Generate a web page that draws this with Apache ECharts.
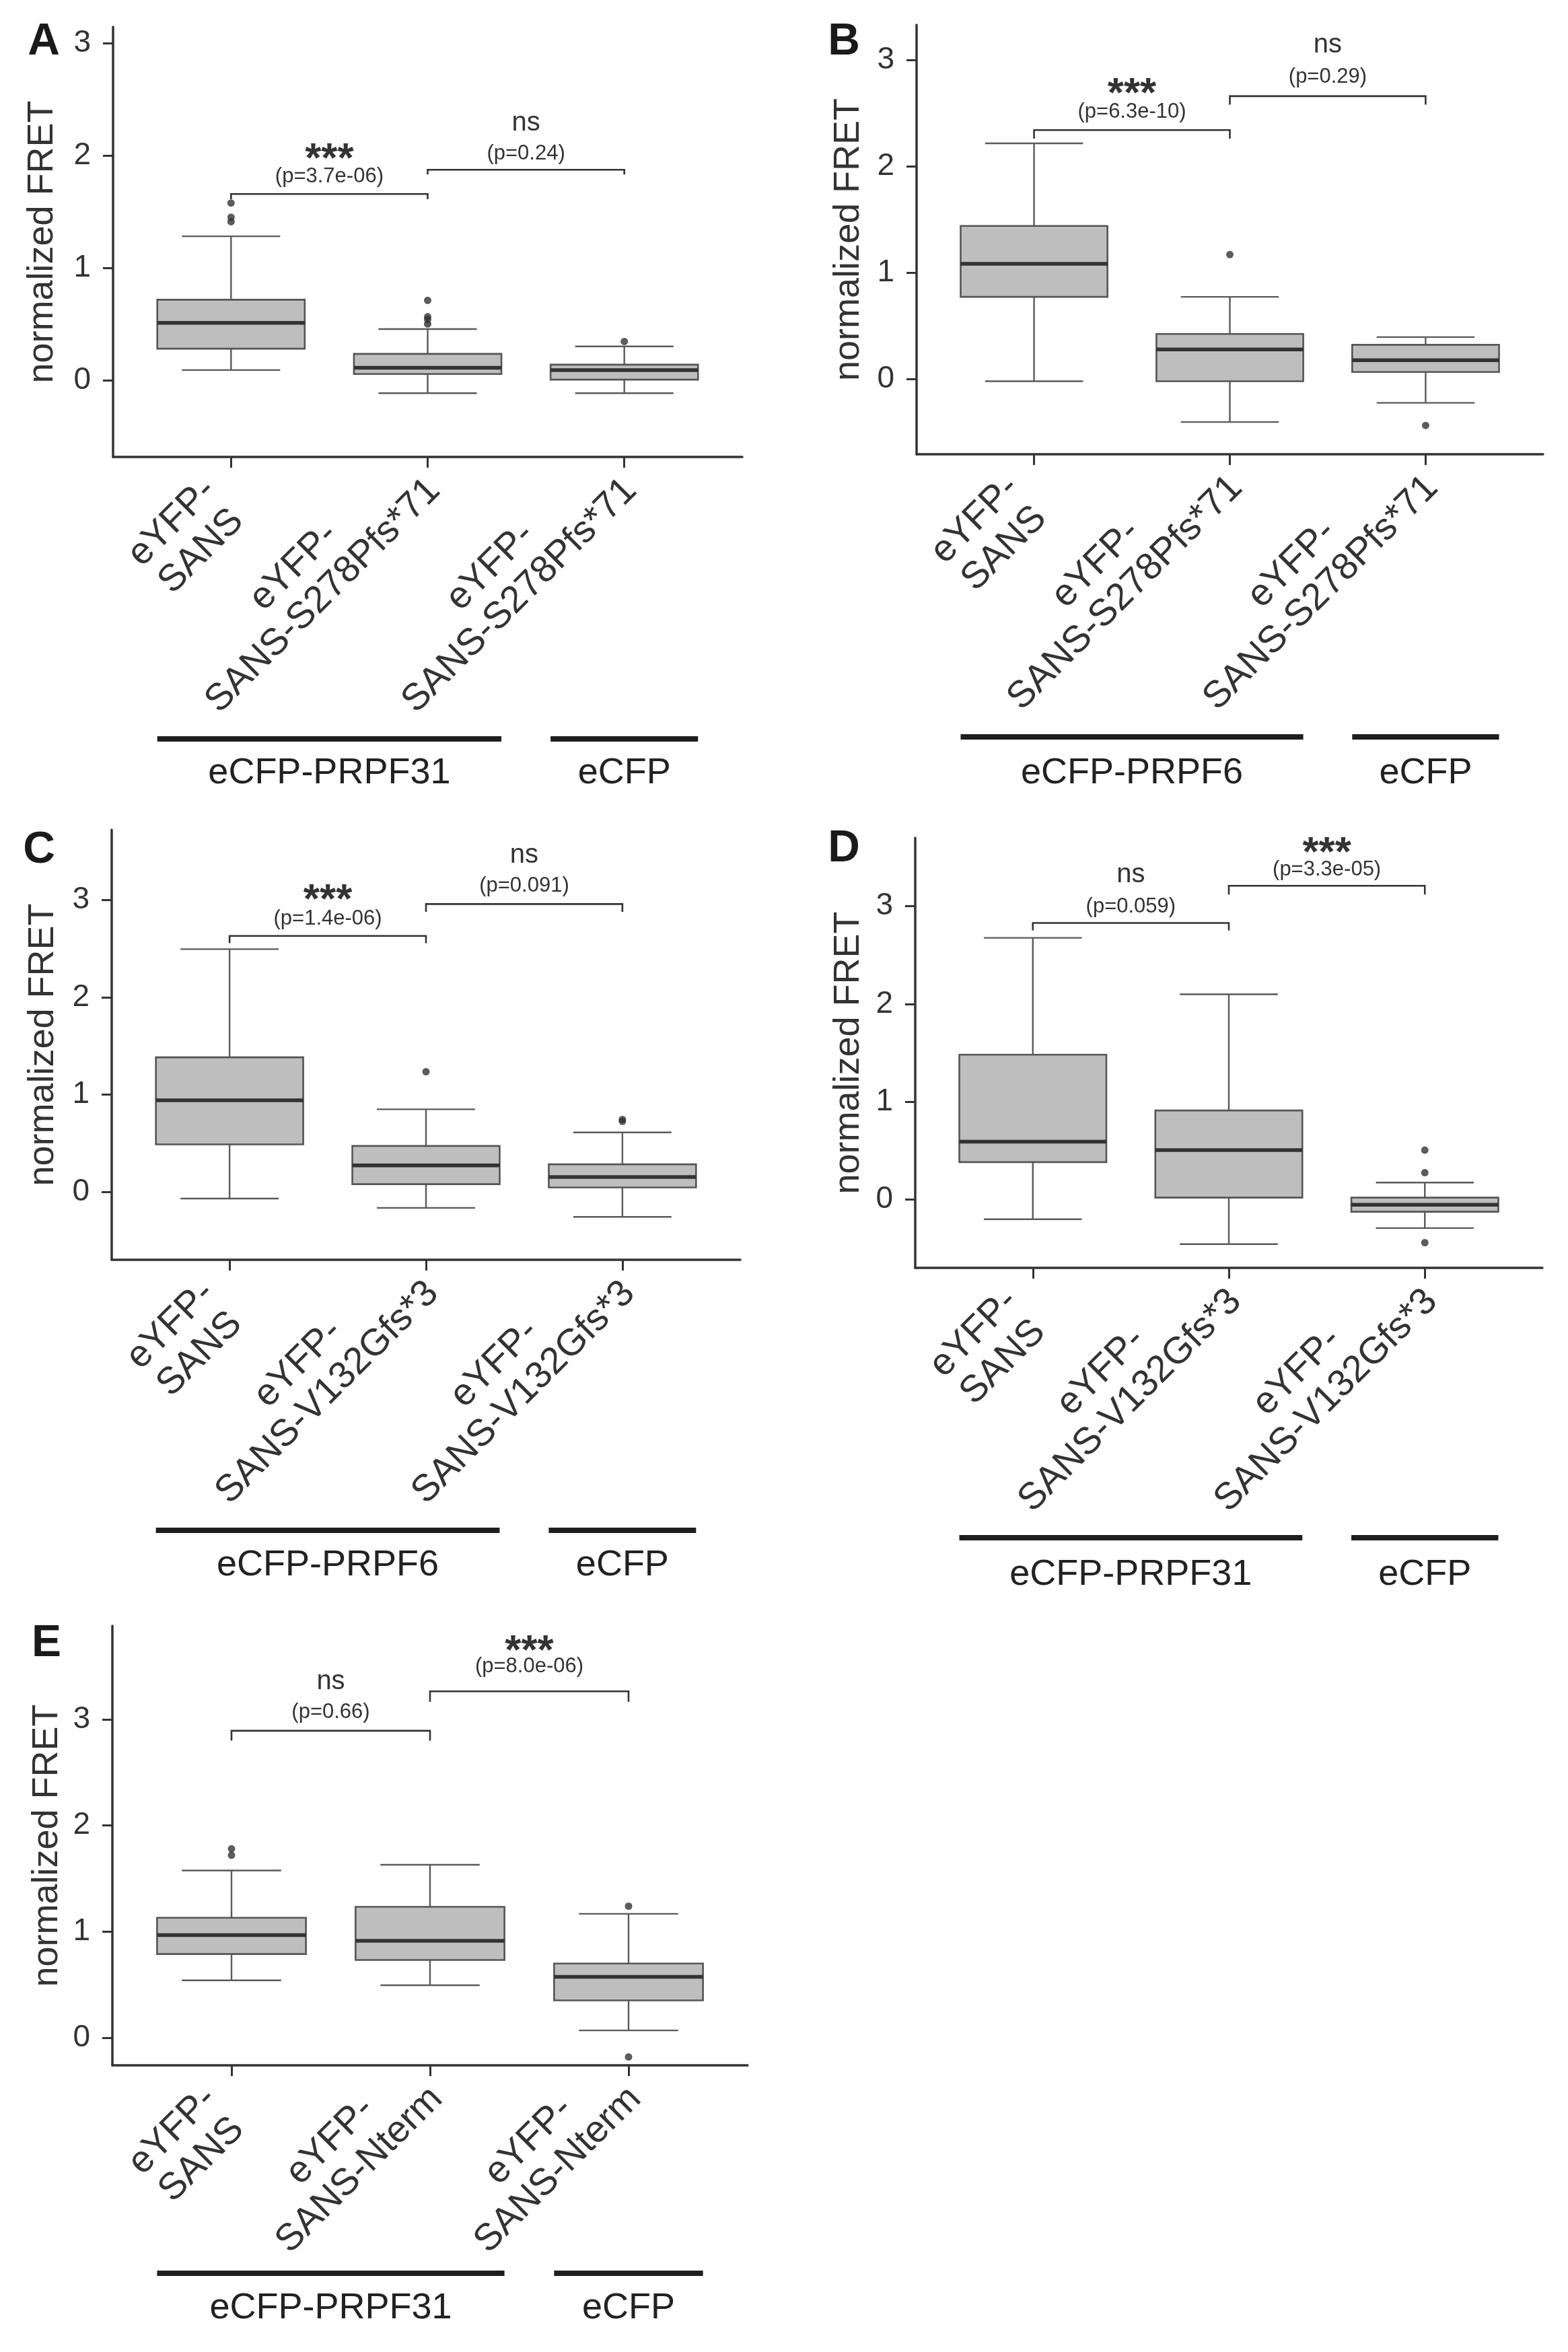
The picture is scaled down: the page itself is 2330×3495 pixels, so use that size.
<!DOCTYPE html>
<html><head><meta charset="utf-8">
<script src="https://cdn.jsdelivr.net/npm/echarts@6.0.0/dist/echarts.min.js"></script>
<style>html,body{margin:0;padding:0;background:#fff}#c{width:2330px;height:3495px}</style>
</head><body><div id="c"></div>
<script>
// ================= DATA =================
const panelLetters = ['A','B','C','D','E'];
const yTickValues = [0, 1, 2, 3];
const xTickValues = [0, 1, 2];

const catsA = ['eYFP-\nSANS', 'eYFP-\nSANS-S278Pfs*71', 'eYFP-\nSANS-S278Pfs*71'];
const catsB = ['eYFP-\nSANS', 'eYFP-\nSANS-S278Pfs*71', 'eYFP-\nSANS-S278Pfs*71'];
const catsC = ['eYFP-\nSANS', 'eYFP-\nSANS-V132Gfs*3', 'eYFP-\nSANS-V132Gfs*3'];
const catsD = ['eYFP-\nSANS', 'eYFP-\nSANS-V132Gfs*3', 'eYFP-\nSANS-V132Gfs*3'];
const catsE = ['eYFP-\nSANS', 'eYFP-\nSANS-Nterm', 'eYFP-\nSANS-Nterm'];

const groupsA = ['eCFP-PRPF31', 'eCFP'];
const groupsB = ['eCFP-PRPF6', 'eCFP'];
const groupsC = ['eCFP-PRPF6', 'eCFP'];
const groupsD = ['eCFP-PRPF31', 'eCFP'];
const groupsE = ['eCFP-PRPF31', 'eCFP'];
const groupSpans = [[0, 1], [2, 2]];

// box stats per category: [low whisker, Q1, median, Q3, high whisker]
const boxA = [[0.09, 0.28, 0.51, 0.716, 1.28], [-0.116, 0.055, 0.11, 0.234, 0.455], [-0.116, 0.005, 0.09, 0.138, 0.30]];
const boxB = [[-0.02, 0.773, 1.083, 1.44, 2.216], [-0.404, -0.02, 0.279, 0.424, 0.773], [-0.224, 0.067, 0.177, 0.322, 0.395]];
const boxC = [[-0.068, 0.488, 0.941, 1.383, 2.494], [-0.164, 0.08, 0.272, 0.472, 0.849], [-0.256, 0.046, 0.154, 0.284, 0.611]];
const boxD = [[-0.2, 0.384, 0.593, 1.483, 2.677], [-0.454, 0.021, 0.507, 0.912, 2.10], [-0.29, -0.123, -0.052, 0.021, 0.175]];
const boxE = [[0.541, 0.789, 0.968, 1.131, 1.576], [0.495, 0.733, 0.914, 1.234, 1.63], [0.07, 0.353, 0.575, 0.70, 1.168]];

// outliers: [category, value]
const outA = [[0, 1.576], [0, 1.45], [0, 1.41], [1, 0.71], [1, 0.565], [1, 0.54], [1, 0.50], [2, 0.344]];
const outB = [[1, 1.17], [2, -0.436]];
const outC = [[1, 1.235], [2, 0.745], [2, 0.725]];
const outD = [[2, 0.507], [2, 0.276], [2, -0.439]];
const outE = [[0, 1.78], [0, 1.72], [2, 1.24], [2, -0.18]];

// y-axis ranges
const yRangeA = [-0.683, 3.143];
const yRangeB = [-0.707, 3.33];
const yRangeC = [-0.697, 3.72];
const yRangeD = [-0.697, 3.70];
const yRangeE = [-0.259, 3.88];

// significance brackets: [fromCat, toCat, barY, tipY]
const bracketsA = [[0, 1, 1.657, 1.61], [1, 2, 1.872, 1.83]];
const bracketsB = [[0, 1, 2.341, 2.26], [1, 2, 2.66, 2.58]];
const bracketsC = [[0, 1, 2.63, 2.556], [1, 2, 2.957, 2.877]];
const bracketsD = [[0, 1, 2.83, 2.754], [1, 2, 3.21, 3.12]];
const bracketsE = [[0, 1, 2.892, 2.80], [1, 2, 3.264, 3.165]];

const sigA = ['***', 'ns'];  const sigYA = [2.05, 2.27];
const sigB = ['***', 'ns'];  const sigYB = [2.77, 3.12];
const sigC = ['***', 'ns'];  const sigYC = [3.09, 3.44];
const sigD = ['ns', '***'];  const sigYD = [3.30, 3.64];
const sigE = ['ns', '***'];  const sigYE = [3.335, 3.73];

const pA = ['(p=3.7e-06)', '(p=0.24)'];  const pYA = [1.80, 2.00];
const pB = ['(p=6.3e-10)', '(p=0.29)'];  const pYB = [2.50, 2.83];
const pC = ['(p=1.4e-06)', '(p=0.091)']; const pYC = [2.79, 3.13];
const pD = ['(p=0.059)', '(p=3.3e-05)']; const pYD = [2.98, 3.36];
const pE = ['(p=0.66)', '(p=8.0e-06)'];  const pYE = [3.05, 3.486];

// ================= LAYOUT / STYLE =================
const FONT = '"Liberation Sans", Arial, Helvetica, sans-serif';
const layout = [
  {left: 168,  top: 40,   width: 935, height: 639, letter: [65, 63],     nameGap: 78, lineOff: 419, labelOff: 470},
  {left: 1362, top: 37,   width: 931, height: 638, letter: [1254, 63],   nameGap: 74, lineOff: 420, labelOff: 474},
  {left: 166,  top: 1233, width: 934, height: 639, letter: [58, 1264],   nameGap: 75, lineOff: 402, labelOff: 454},
  {left: 1360, top: 1245, width: 932, height: 639, letter: [1254, 1262], nameGap: 72, lineOff: 401, labelOff: 456},
  {left: 167,  top: 2416, width: 944, height: 653, letter: [69, 2443],   nameGap: 70, lineOff: 309, labelOff: 361}
];
const BOX_W = 0.75, CAP_W = 0.5, GROUP_HALF = 0.375;
const XF = 56, XLH = 61, XLA = 24, XLB = 27;
const AXIS_COLOR = '#333';
const TEXT_COLOR = '#333';

const panels = [
  {cats: catsA, groups: groupsA, box: boxA, out: outA, yr: yRangeA, br: bracketsA, sig: sigA, sigY: sigYA, p: pA, pY: pYA},
  {cats: catsB, groups: groupsB, box: boxB, out: outB, yr: yRangeB, br: bracketsB, sig: sigB, sigY: sigYB, p: pB, pY: pYB},
  {cats: catsC, groups: groupsC, box: boxC, out: outC, yr: yRangeC, br: bracketsC, sig: sigC, sigY: sigYC, p: pC, pY: pYC},
  {cats: catsD, groups: groupsD, box: boxD, out: outD, yr: yRangeD, br: bracketsD, sig: sigD, sigY: sigYD, p: pD, pY: pYD},
  {cats: catsE, groups: groupsE, box: boxE, out: outE, yr: yRangeE, br: bracketsE, sig: sigE, sigY: sigYE, p: pE, pY: pYE}
];

// ================= RENDERERS =================
function boxRender(params, api) {
  const x = api.value(0);
  const lo = api.coord([x, api.value(1)]);
  const q1 = api.coord([x, api.value(2)]);
  const md = api.coord([x, api.value(3)]);
  const q3 = api.coord([x, api.value(4)]);
  const hi = api.coord([x, api.value(5)]);
  const bw = api.size([BOX_W, 0])[0];
  const cw = api.size([CAP_W, 0])[0];
  const cx = lo[0];
  const ws = {stroke: '#5a5a5a', lineWidth: 2.4};
  return {type: 'group', children: [
    {type: 'line', shape: {x1: cx, y1: q3[1], x2: cx, y2: hi[1]}, style: ws},
    {type: 'line', shape: {x1: cx, y1: q1[1], x2: cx, y2: lo[1]}, style: ws},
    {type: 'line', shape: {x1: cx - cw / 2, y1: hi[1], x2: cx + cw / 2, y2: hi[1]}, style: ws},
    {type: 'line', shape: {x1: cx - cw / 2, y1: lo[1], x2: cx + cw / 2, y2: lo[1]}, style: ws},
    {type: 'rect', shape: {x: cx - bw / 2, y: q3[1], width: bw, height: q1[1] - q3[1]},
      style: {fill: '#bebebe', stroke: '#555', lineWidth: 2.6}},
    {type: 'line', shape: {x1: cx - bw / 2, y1: md[1], x2: cx + bw / 2, y2: md[1]},
      style: {stroke: '#333', lineWidth: 5.5}}
  ]};
}
function bracketRender(params, api) {
  const a = api.coord([api.value(0), api.value(2)]);
  const b = api.coord([api.value(1), api.value(2)]);
  const at = api.coord([api.value(0), api.value(3)]);
  const bt = api.coord([api.value(1), api.value(3)]);
  return {type: 'polyline', shape: {points: [at, a, b, bt]},
    style: {stroke: '#333', lineWidth: 2.6, fill: 'none'}};
}
function makeTextRender(texts, kind) {
  return function (params, api) {
    const pt = api.coord([api.value(0), api.value(1)]);
    const t = texts[api.value(2)];
    let font, dy = 0;
    if (kind === 'p') { font = '31px ' + FONT; dy = -2; }
    else if (t === '***') { font = 'bold 62px ' + FONT; dy = 15; }
    else { font = '40px ' + FONT; dy = -3; }
    return {type: 'text', x: pt[0], y: pt[1] + dy,
      style: {text: t, font: font, fill: TEXT_COLOR, align: 'center', verticalAlign: 'middle'}};
  };
}

// ================= OPTION =================
const option = {animation: false, backgroundColor: '#fff', grid: [], xAxis: [], yAxis: [], series: []};
panels.forEach((P, i) => {
  const L = layout[i];
  option.grid.push({left: L.left, top: L.top, width: L.width, height: L.height, containLabel: false});
  option.xAxis.push({
    type: 'value', gridIndex: i, min: -0.6, max: 2.6,
    axisLine: {show: true, onZero: false, lineStyle: {color: AXIS_COLOR, width: 3.5}},
    axisTick: {show: true, customValues: xTickValues, length: 16, lineStyle: {color: AXIS_COLOR, width: 3}},
    axisLabel: {show: false},
    splitLine: {show: false}
  });
  option.yAxis.push({
    type: 'value', gridIndex: i, min: P.yr[0], max: P.yr[1],
    name: 'normalized FRET', nameLocation: 'middle', nameGap: L.nameGap,
    nameTextStyle: {fontSize: 54, color: TEXT_COLOR, fontFamily: FONT},
    axisLine: {show: true, onZero: false, lineStyle: {color: AXIS_COLOR, width: 3.5}},
    axisTick: {show: true, customValues: yTickValues, length: 15, lineStyle: {color: AXIS_COLOR, width: 3}},
    axisLabel: {show: true, customValues: yTickValues, margin: 33, fontSize: 46, color: TEXT_COLOR, fontFamily: FONT},
    splitLine: {show: false}
  });
  option.series.push({
    type: 'custom', xAxisIndex: i, yAxisIndex: i, renderItem: boxRender,
    dimensions: ['x', 'lo', 'q1', 'med', 'q3', 'hi'],
    encode: {x: 0, y: [1, 2, 3, 4, 5]},
    data: P.box.map((b, k) => [k].concat(b))
  });
  option.series.push({
    type: 'scatter', xAxisIndex: i, yAxisIndex: i, symbolSize: 11,
    itemStyle: {color: '#333'}, data: P.out
  });
  option.series.push({
    type: 'custom', xAxisIndex: i, yAxisIndex: i, renderItem: bracketRender,
    encode: {x: [0, 1], y: [2, 3]}, data: P.br
  });
  option.series.push({
    type: 'custom', xAxisIndex: i, yAxisIndex: i, renderItem: makeTextRender(P.sig, 'sig'),
    encode: {x: 0, y: 1},
    data: P.br.map((b, k) => [(b[0] + b[1]) / 2, P.sigY[k], k])
  });
  option.series.push({
    type: 'custom', xAxisIndex: i, yAxisIndex: i, renderItem: makeTextRender(P.p, 'p'),
    encode: {x: 0, y: 1},
    data: P.br.map((b, k) => [(b[0] + b[1]) / 2, P.pY[k], k])
  });
});

const chart = echarts.init(document.getElementById('c'), null, {renderer: 'canvas'});
chart.setOption(option);

// ================= AXIS LABELS, GROUP BARS, LETTERS =================
const mctx = document.createElement('canvas').getContext('2d');
function measure(s, font) { mctx.font = font; return mctx.measureText(s).width; }
function labelExtent(text) {
  const lines = text.split('\n');
  const n = lines.length, c = Math.SQRT1_2, h = 0.72 * XF;
  let R = -1e9, T = 1e9;
  lines.forEach((ln, k) => {
    const w = measure(ln, XF + 'px ' + FONT);
    const yc = (k - (n - 1) / 2) * XLH;
    [-1, 1].forEach(sx => [-1, 1].forEach(sy => {
      const x = sx * w / 2, y = yc + sy * h / 2;
      R = Math.max(R, c * (x + y));
      T = Math.min(T, c * (y - x));
    }));
  });
  return {R, T};
}

const graphics = [];
panels.forEach((P, i) => {
  const L = layout[i];
  const axisY = chart.convertToPixel({yAxisIndex: i}, P.yr[0]);
  P.cats.forEach((cat, k) => {
    const tx = chart.convertToPixel({xAxisIndex: i}, k);
    const e = labelExtent(cat);
    graphics.push({
      type: 'text', x: tx + XLA - e.R, y: axisY + XLB - e.T, rotation: Math.PI / 4,
      style: {text: cat, font: XF + 'px ' + FONT, fill: TEXT_COLOR, align: 'center',
        verticalAlign: 'middle', lineHeight: XLH}
    });
  });
  groupSpans.forEach((sp, g) => {
    const x1 = chart.convertToPixel({xAxisIndex: i}, sp[0] - GROUP_HALF);
    const x2 = chart.convertToPixel({xAxisIndex: i}, sp[1] + GROUP_HALF);
    const xm = chart.convertToPixel({xAxisIndex: i}, (sp[0] + sp[1]) / 2);
    graphics.push({type: 'line', shape: {x1: x1, y1: axisY + L.lineOff, x2: x2, y2: axisY + L.lineOff},
      style: {stroke: '#1e1e1e', lineWidth: 8}});
    graphics.push({type: 'text', x: xm, y: axisY + L.labelOff,
      style: {text: P.groups[g], font: '54px ' + FONT, fill: '#222', align: 'center', verticalAlign: 'middle'}});
  });
  graphics.push({type: 'text', x: L.letter[0], y: L.letter[1],
    style: {text: panelLetters[i], font: 'bold 66px ' + FONT, fill: '#1a1a1a', align: 'center', verticalAlign: 'middle'}});
});
chart.setOption({graphic: graphics});
</script>
</body></html>
